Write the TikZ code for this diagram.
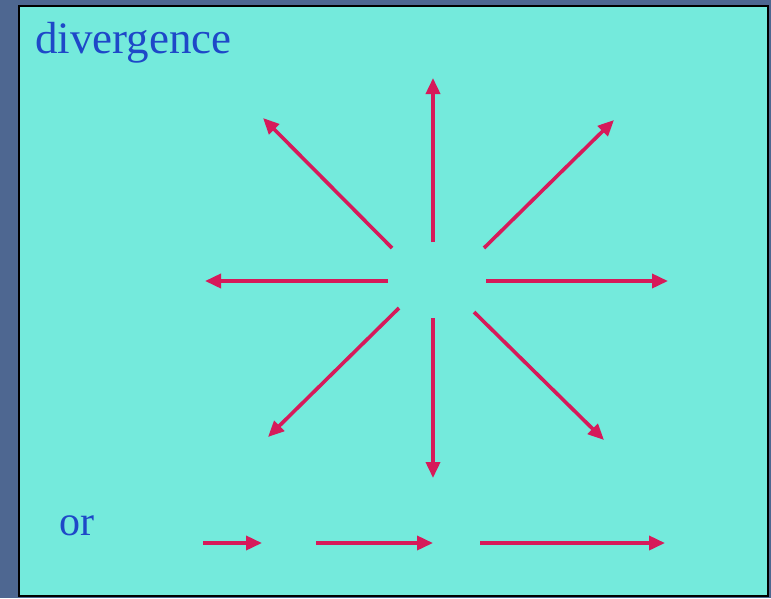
\documentclass[tikz,border=0pt]{standalone}
\usepackage{fontspec}
\setmainfont{Liberation Serif}
\usetikzlibrary{arrows.meta}
\definecolor{fundo}{RGB}{78,103,145}
\definecolor{painel}{RGB}{116,234,220}
\definecolor{seta}{RGB}{214,26,90}
\definecolor{azul}{RGB}{30,72,200}

\begin{document}
\begin{tikzpicture}[x=1pt, y=-1pt,
  ray/.style={draw=seta, line width=3.6pt, -{Triangle[length=16pt, width=14pt]}},
  rotulo/.style={anchor=base west, text=azul, inner sep=0pt}]
  \useasboundingbox (0,0) rectangle (771,598);
  \fill[fundo] (0,0) rectangle (771,598);
  \filldraw[fill=painel, draw=black, line width=2pt] (19,6) rectangle (768,596);

  \node[rotulo, font=\fontsize{45}{50}\selectfont] (titulo) at (35,53) {divergence};
  \node[rotulo, font=\fontsize{42}{48}\selectfont] (ou) at (59,535) {or};

  % star of rays around the centre
  \coordinate (n0) at (433,242);  \coordinate (n1) at (433,78);
  \coordinate (s0) at (433,318);  \coordinate (s1) at (433,478);
  \coordinate (w0) at (388,281);  \coordinate (w1) at (205,281);
  \coordinate (e0) at (486,281);  \coordinate (e1) at (668,281);
  \coordinate (nw0) at (392,248); \coordinate (nw1) at (263,118);
  \coordinate (ne0) at (484,248); \coordinate (ne1) at (614,120);
  \coordinate (sw0) at (399,308); \coordinate (sw1) at (268,437);
  \coordinate (se0) at (474,312); \coordinate (se1) at (604,440);
  \foreach \d in {n,s,w,e,nw,ne,sw,se}
    \draw[ray] (\d0) -- (\d1);

  % growing arrows on the bottom line
  \coordinate (a0) at (203,543); \coordinate (a1) at (262,543);
  \coordinate (b0) at (316,543); \coordinate (b1) at (433,543);
  \coordinate (c0) at (480,543); \coordinate (c1) at (665,543);
  \draw[ray] (a0) -- (a1);
  \draw[ray] (b0) -- (b1);
  \draw[ray] (c0) -- (c1);
\end{tikzpicture}
\end{document}
